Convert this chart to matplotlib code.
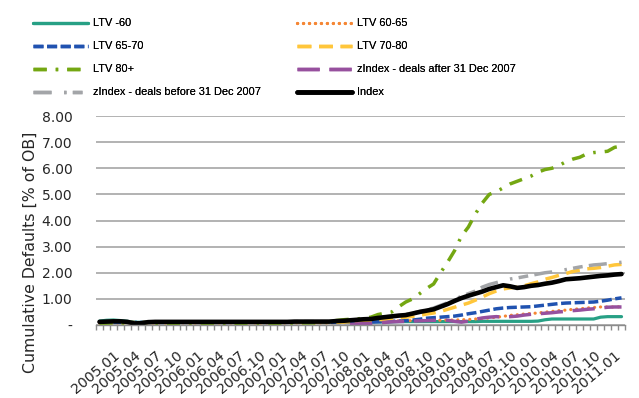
import numpy as np
import matplotlib
matplotlib.use("Agg")
import matplotlib.pyplot as plt
import matplotlib.transforms as mtransforms

plt.rcParams['font.family'] = ['DejaVu Sans']
plt.rcParams['lines.scale_dashes'] = False

# monthly periods 2005.01 .. 2011.04
years = range(2005, 2012)
periods = [f"{y}.{m:02d}" for y in years for m in range(1, 13)][:76]

ltv_60 = [0.15, 0.18, 0.19, 0.17, 0.14, 0.11, 0.10, 0.11, 0.11, 0.11,
          0.11, 0.11, 0.11, 0.11, 0.11, 0.11, 0.11, 0.11, 0.11, 0.11,
          0.11, 0.11, 0.11, 0.11, 0.11, 0.11, 0.11, 0.11, 0.11, 0.11,
          0.11, 0.11, 0.12, 0.12, 0.12, 0.12, 0.12, 0.12, 0.12, 0.12,
          0.12, 0.12, 0.12, 0.13, 0.13, 0.13, 0.13, 0.13, 0.13, 0.13,
          0.13, 0.13, 0.13, 0.13, 0.13, 0.14, 0.14, 0.14, 0.14, 0.14,
          0.14, 0.14, 0.14, 0.15, 0.20, 0.23, 0.23, 0.23, 0.23, 0.23,
          0.23, 0.23, 0.30, 0.32, 0.32, 0.32]
ltv_60_65 = [0.08, 0.08, 0.08, 0.08, 0.08, 0.08, 0.08, 0.08, 0.08, 0.08,
             0.08, 0.08, 0.08, 0.08, 0.08, 0.08, 0.08, 0.08, 0.08, 0.08,
             0.08, 0.08, 0.08, 0.08, 0.08, 0.08, 0.08, 0.08, 0.08, 0.08,
             0.08, 0.08, 0.08, 0.08, 0.09, 0.09, 0.10, 0.10, 0.11, 0.12,
             0.13, 0.14, 0.15, 0.16, 0.16, 0.17, 0.17, 0.17, 0.18, 0.18,
             0.19, 0.19, 0.20, 0.21, 0.23, 0.25, 0.27, 0.30, 0.33, 0.37,
             0.39, 0.42, 0.44, 0.46, 0.49, 0.52, 0.55, 0.57, 0.60, 0.62,
             0.65, 0.67, 0.69, 0.69, 0.69, 0.70]
ltv_65_70 = [0.10, 0.10, 0.10, 0.10, 0.10, 0.10, 0.10, 0.10, 0.10, 0.10,
             0.10, 0.10, 0.10, 0.10, 0.10, 0.10, 0.10, 0.10, 0.10, 0.10,
             0.10, 0.10, 0.10, 0.10, 0.10, 0.10, 0.10, 0.10, 0.10, 0.10,
             0.10, 0.10, 0.10, 0.10, 0.10, 0.10, 0.10, 0.11, 0.11, 0.11,
             0.12, 0.13, 0.14, 0.15, 0.17, 0.19, 0.22, 0.26, 0.28, 0.30,
             0.32, 0.34, 0.38, 0.43, 0.47, 0.52, 0.57, 0.62, 0.65, 0.67,
             0.68, 0.69, 0.70, 0.73, 0.76, 0.79, 0.82, 0.84, 0.85, 0.86,
             0.87, 0.88, 0.91, 0.95, 1.00, 1.04]
ltv_70_80 = [0.10, 0.10, 0.10, 0.10, 0.10, 0.10, 0.10, 0.10, 0.10, 0.10,
             0.10, 0.10, 0.10, 0.10, 0.10, 0.10, 0.10, 0.10, 0.10, 0.10,
             0.10, 0.10, 0.10, 0.10, 0.10, 0.10, 0.10, 0.10, 0.10, 0.10,
             0.10, 0.10, 0.10, 0.10, 0.10, 0.11, 0.12, 0.14, 0.16, 0.18,
             0.20, 0.22, 0.25, 0.28, 0.30, 0.33, 0.37, 0.42, 0.46, 0.52,
             0.60, 0.68, 0.76, 0.84, 0.95, 1.07, 1.20, 1.30, 1.38, 1.42,
             1.45, 1.50, 1.58, 1.65, 1.75, 1.82, 1.90, 1.97, 2.05, 2.10,
             2.15, 2.17, 2.20, 2.25, 2.30, 2.32]
ltv_80 = [0.07, 0.07, 0.08, 0.08, 0.07, 0.06, 0.06, 0.07, 0.07, 0.07,
          0.07, 0.07, 0.07, 0.07, 0.07, 0.07, 0.07, 0.07, 0.07, 0.07,
          0.07, 0.07, 0.07, 0.07, 0.07, 0.07, 0.07, 0.07, 0.07, 0.08,
          0.08, 0.08, 0.10, 0.13, 0.17, 0.20, 0.22, 0.23, 0.26, 0.30,
          0.40, 0.45, 0.50, 0.70, 0.88, 1.00, 1.20, 1.40, 1.57, 2.00,
          2.40, 2.84, 3.40, 3.75, 4.25, 4.67, 5.00, 5.10, 5.25, 5.40,
          5.50, 5.60, 5.70, 5.85, 5.95, 6.00, 6.10, 6.25, 6.35, 6.42,
          6.55, 6.60, 6.62, 6.65, 6.80, 6.85]
z_after_2007 = [np.nan] * 36 + [
    0.02, 0.04, 0.05, 0.06,
    0.08, 0.10, 0.12, 0.13, 0.14, 0.15, 0.16, 0.17, 0.18, 0.19,
    0.18, 0.14, 0.11, 0.15, 0.22, 0.27, 0.30, 0.32, 0.30, 0.32,
    0.34, 0.38, 0.41, 0.43, 0.45, 0.47, 0.50, 0.52, 0.55, 0.57,
    0.60, 0.62, 0.65, 0.68, 0.69, 0.69]
z_before_2007 = [0.12, 0.13, 0.14, 0.14, 0.12, 0.06, 0.07, 0.11, 0.12, 0.12,
                 0.12, 0.12, 0.12, 0.12, 0.12, 0.12, 0.12, 0.12, 0.12, 0.12,
                 0.12, 0.12, 0.12, 0.12, 0.12, 0.12, 0.12, 0.12, 0.13, 0.13,
                 0.13, 0.13, 0.13, 0.13, 0.16, 0.17, 0.19, 0.21, 0.23, 0.24,
                 0.28, 0.31, 0.34, 0.37, 0.40, 0.45, 0.52, 0.58, 0.65, 0.75,
                 0.85, 0.97, 1.10, 1.20, 1.30, 1.45, 1.55, 1.62, 1.70, 1.76,
                 1.80, 1.85, 1.90, 1.95, 2.00, 2.03, 2.07, 2.12, 2.17, 2.22,
                 2.26, 2.30, 2.32, 2.35, 2.38, 2.40]
index_all = [0.12, 0.13, 0.14, 0.14, 0.12, 0.06, 0.07, 0.11, 0.12, 0.12,
             0.12, 0.12, 0.12, 0.12, 0.12, 0.12, 0.12, 0.12, 0.12, 0.12,
             0.12, 0.12, 0.12, 0.12, 0.12, 0.12, 0.12, 0.12, 0.13, 0.13,
             0.13, 0.13, 0.13, 0.13, 0.15, 0.16, 0.18, 0.20, 0.22, 0.23,
             0.27, 0.30, 0.33, 0.36, 0.38, 0.44, 0.50, 0.55, 0.60, 0.70,
             0.80, 0.92, 1.03, 1.12, 1.20, 1.28, 1.38, 1.45, 1.52, 1.48,
             1.42, 1.45, 1.50, 1.53, 1.58, 1.62, 1.68, 1.75, 1.77, 1.79,
             1.82, 1.85, 1.88, 1.90, 1.93, 1.95]

x = np.arange(len(periods))

fig = plt.figure(figsize=(6.39, 3.98), dpi=100)
ax = fig.add_axes([96 / 639, 1 - 325 / 398, 529 / 639, 209 / 398])

series = [
    ("LTV -60", ltv_60, dict(color="#27A085", lw=2.3, ls="-")),
    ("LTV 60-65", ltv_60_65, dict(color="#F58634", lw=2.3, ls=(0, (0.1, 4.2)),
                                  dash_capstyle="round")),
    ("LTV 65-70", ltv_65_70, dict(color="#2052B0", lw=2.5, ls=(0, (7.2, 2.6)))),
    ("LTV 70-80", ltv_70_80, dict(color="#FFC63B", lw=2.5, ls=(0, (10, 5.5)))),
    ("LTV 80+", ltv_80, dict(color="#74A712", lw=2.5,
                             ls=(0, (9.5, 6.5, 1.8, 6.5)))),
    ("zIndex - deals after 31 Dec 2007", z_after_2007,
     dict(color="#97509E", lw=2.5, ls=(0, (16, 7)))),
    ("zIndex - deals before 31 Dec 2007", z_before_2007,
     dict(color="#A3A5A8", lw=2.5, ls=(0, (13, 9, 1.8, 4.5, 7, 4.5)))),
    ("Index", index_all, dict(color="#000000", lw=3.3, ls="-")),
]

handles = {}
for name, vals, style in series:
    h, = ax.plot(x, vals, label=name, solid_capstyle="round", **style)
    handles[name] = h

ax.set_xlim(-0.5, len(periods) - 0.5)
ax.set_ylim(0, 8)
ax.set_yticks(range(0, 9))
ax.set_yticklabels(["-"] + [f"{v:.2f}" for v in range(1, 9)])
ax.yaxis.grid(True, color="#A6A6A6", lw=1.2)
ax.set_axisbelow(True)
for s in ("left", "right", "top"):
    ax.spines[s].set_visible(False)
ax.spines["bottom"].set_color("#8C8C8C")
ax.spines["bottom"].set_linewidth(1.0)

ax.tick_params(axis="y", length=0, pad=17, labelsize=10, labelcolor="#262626")
# labels every quarter up to 2011.01
ax.set_xticks(x[:73:3])
ax.set_xticklabels(periods[:73:3])
ax.set_xticks(np.arange(-0.5, len(periods), 1), minor=True)
ax.tick_params(axis="x", which="major", length=0, pad=17, labelsize=10.2,
               labelcolor="#262626")
ax.tick_params(axis="x", which="minor", length=3.5, width=1.0, color="#8C8C8C")
shift = mtransforms.ScaledTranslation(14 / 100, 0, fig.dpi_scale_trans)
for lab in ax.get_xticklabels():
    lab.set_rotation(40)
    lab.set_ha("right")
    lab.set_va("top")
    lab.set_rotation_mode("anchor")
    lab.set_transform(lab.get_transform() + shift)

fig.text(30 / 639, 1 - 252 / 398, "Cumulative Defaults [% of OB]",
         rotation=90, ha="center", va="center", fontsize=11.3,
         color="#262626")

# two legend columns placed side by side
leg_font = dict(family=["Liberation Sans"], size=7.9)
col1 = ["LTV -60", "LTV 65-70", "LTV 80+", "zIndex - deals before 31 Dec 2007"]
col2 = ["LTV 60-65", "LTV 70-80", "zIndex - deals after 31 Dec 2007", "Index"]
for names, x0 in ((col1, 33), (col2, 297)):
    leg = fig.legend([handles[n] for n in names], names, loc="upper left",
                     bbox_to_anchor=(x0 / 639, 1 - 18.5 / 398),
                     frameon=False, prop=leg_font, borderpad=0,
                     borderaxespad=0, handlelength=5.0, handletextpad=0.45,
                     labelspacing=1.18)
    fig.add_artist(leg)

fig.savefig("out.png", dpi=100)
